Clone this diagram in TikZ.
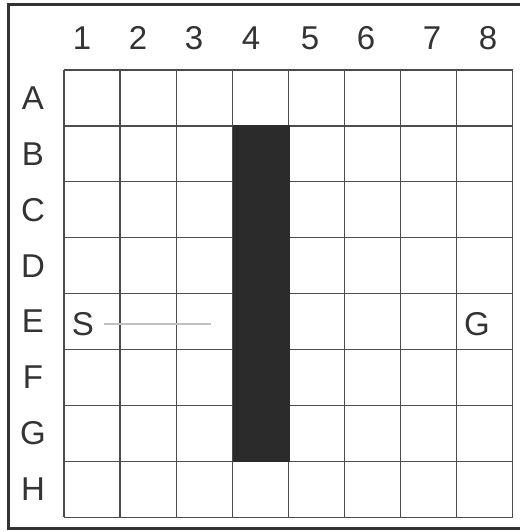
\documentclass[tikz,border=0pt]{standalone}
\usepackage{fontspec}
\setmainfont{Liberation Sans}
\usetikzlibrary{calc}

\tikzset{
  gridline/.style={draw=black!70,line width=1.3pt},
  lbl/.style={text=black!80,font=\fontsize{33}{36}\selectfont,inner sep=0pt},
}

\begin{document}
\begin{tikzpicture}[x=1pt,y=-1pt]
\useasboundingbox (0,0) rectangle (519,532);
\draw[black!80,line width=3pt] (8,5) rectangle (522,528);
% grid
\foreach \i in {0,...,8} {
  \draw[gridline] ({64+\i*56.1},70) -- ({64+\i*56.1},517);
  \draw[gridline] (64,{70+\i*55.9}) -- (513,{70+\i*55.9});
}
% wall
\fill[black!83] (233,125) rectangle (290,462);
% column numbers
\foreach \n/\x in {1/82,2/138,3/194,4/251,5/310,6/366,7/432,8/488}
  \node[lbl] (c\n) at (\x,38) {\n};
% row letters
\foreach \r [count=\k from 0] in {A,B,C,D,E,F,G,H}
  \node[lbl] (r\r) at (33,{98+\k*55.9}) {\r};
\node[lbl] (S) at (83,324) {S};
\node[lbl] (G) at (477,324) {G};
\coordinate (trail) at (211,324);
\draw[black!25,line width=1.3pt] ($(S.east)+(10,0)$) -- (trail);
\end{tikzpicture}
\end{document}
